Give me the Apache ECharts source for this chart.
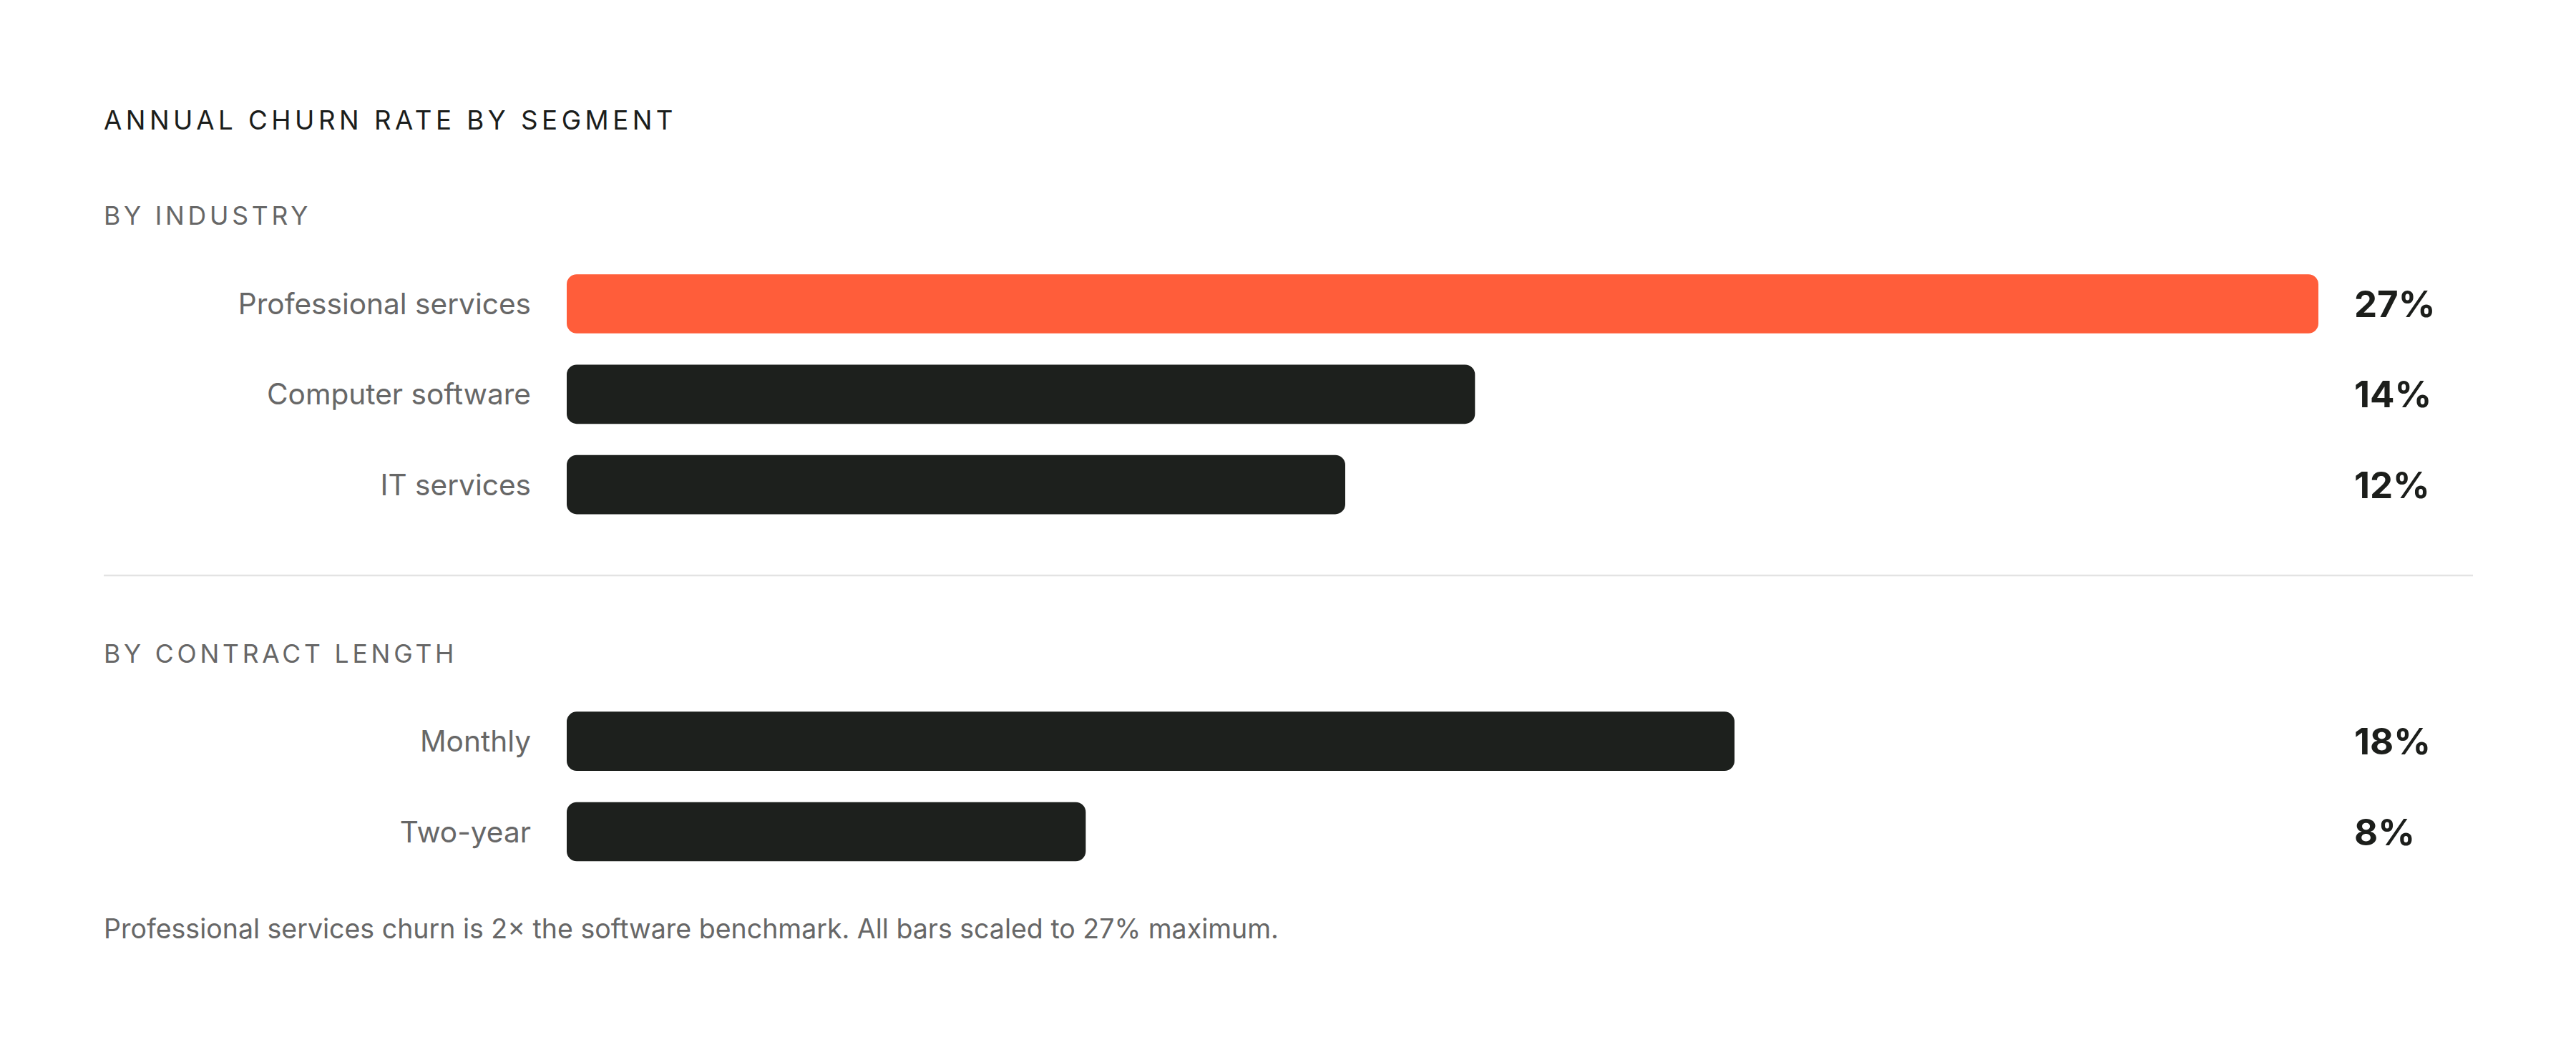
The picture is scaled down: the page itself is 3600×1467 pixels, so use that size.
<!DOCTYPE html>
<html>
<head>
<meta charset="utf-8">
<script src="https://cdn.jsdelivr.net/npm/echarts@6/dist/echarts.min.js"></script>
<style>
html, body { margin: 0; padding: 0; background: #ffffff; }
#chart { width: 3600px; height: 1467px; }
svg text[style*="spcA"] { letter-spacing: 5.5px; }
svg text[style*="spcB"] { letter-spacing: 4.8px; }
</style>
</head>
<body>
<div id="chart"></div>
<script>
// ---- data ----
const chartTitle = 'ANNUAL CHURN RATE BY SEGMENT';
const industryHeading = 'BY INDUSTRY';
const industryCategories = ['Professional services', 'Computer software', 'IT services'];
const industryValues = [27, 14, 12];
const contractHeading = 'BY CONTRACT LENGTH';
const contractCategories = ['Monthly', 'Two-year'];
const contractValues = [18, 8];
const highlightCategory = 'Professional services';
const scaleMax = 27;
const footnote = 'Professional services churn is 2\u00d7 the software benchmark. All bars scaled to 27% maximum.';

// ---- styles ----
const ORANGE = '#FF5D3A';
const DARK = '#1D201D';
const GRAY = '#676767';
const FONT = 'Inter';
const ROW = 126.3;
const BAR_H = 82.7;

const chart = echarts.init(document.getElementById('chart'), null, { renderer: 'svg' });

function barData(cats, vals) {
  return vals.map((v, i) => ({
    value: v,
    itemStyle: { color: cats[i] === highlightCategory ? ORANGE : DARK }
  }));
}

function catAxis(grid, cats) {
  return {
    type: 'category', gridIndex: grid, data: cats, inverse: true,
    axisLine: { show: false }, axisTick: { show: false }, splitLine: { show: false },
    axisLabel: { margin: 50, fontSize: 40.6, fontFamily: FONT, color: GRAY }
  };
}
function valAxis(grid, vals) {
  return {
    type: 'category', gridIndex: grid, position: 'right', inverse: true,
    data: vals.map(v => v + '%'),
    axisLine: { show: false }, axisTick: { show: false }, splitLine: { show: false },
    axisLabel: { margin: 50, align: 'left', fontSize: 51, fontWeight: 700, fontFamily: FONT, color: '#1C1E1B' }
  };
}

const option = {
  backgroundColor: '#ffffff',
  animation: false,
  grid: [
    { left: 792, right: 360, top: 424.5 - ROW / 2, height: ROW * industryCategories.length },
    { left: 792, right: 360, top: 1035.7 - ROW / 2, height: ROW * contractCategories.length }
  ],
  xAxis: [
    { type: 'value', gridIndex: 0, min: 0, max: scaleMax, show: false },
    { type: 'value', gridIndex: 1, min: 0, max: scaleMax, show: false }
  ],
  yAxis: [
    catAxis(0, industryCategories),
    valAxis(0, industryValues),
    catAxis(1, contractCategories),
    valAxis(1, contractValues)
  ],
  series: [
    {
      type: 'bar', xAxisIndex: 0, yAxisIndex: 0, barWidth: BAR_H,
      itemStyle: { borderRadius: 14 },
      data: barData(industryCategories, industryValues)
    },
    {
      type: 'bar', xAxisIndex: 1, yAxisIndex: 2, barWidth: BAR_H,
      itemStyle: { borderRadius: 14 },
      data: barData(contractCategories, contractValues)
    }
  ],
  graphic: [
    {
      type: 'text', x: 145, y: 167.5,
      style: { text: chartTitle, fontSize: 36.7, fontWeight: 400, fontFamily: FONT + ', spcA', fill: '#1B1D1B', align: 'left', verticalAlign: 'middle' }
    },
    {
      type: 'text', x: 145, y: 301,
      style: { text: industryHeading, fontSize: 35.5, fontWeight: 400, fontFamily: FONT + ', spcB', fill: GRAY, align: 'left', verticalAlign: 'middle' }
    },
    {
      type: 'line', shape: { x1: 145, y1: 804, x2: 3456, y2: 804 },
      style: { stroke: '#E3E3E3', lineWidth: 2.3 }
    },
    {
      type: 'text', x: 145, y: 913,
      style: { text: contractHeading, fontSize: 35.5, fontWeight: 400, fontFamily: FONT + ', spcB', fill: GRAY, align: 'left', verticalAlign: 'middle' }
    },
    {
      type: 'text', x: 145, y: 1297,
      style: { text: footnote, fontSize: 37.5, fontWeight: 400, fontFamily: FONT, fill: GRAY, align: 'left', verticalAlign: 'middle' }
    }
  ]
};

chart.setOption(option);
</script>
</body>
</html>
